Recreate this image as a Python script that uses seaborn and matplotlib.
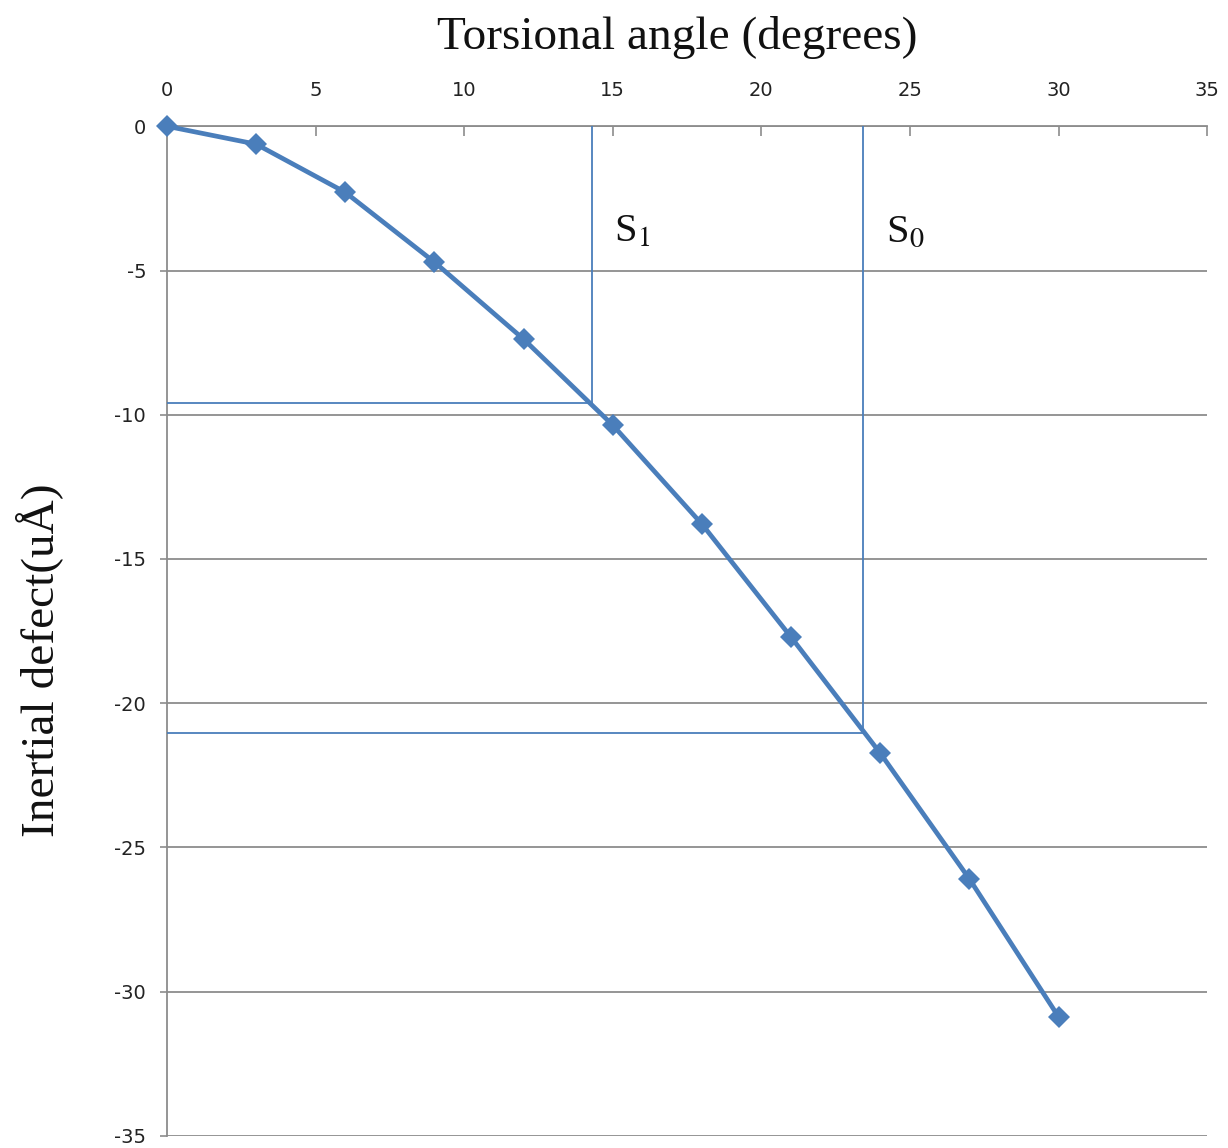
import matplotlib
matplotlib.use("Agg")
import matplotlib.pyplot as plt
import seaborn as sns
import pandas as pd

# Torsional angle scan and resulting inertial defect
angle = [0, 3, 6, 9, 12, 15, 18, 21, 24, 27, 30]
defect = [0.0, -0.62, -2.29, -4.71, -7.38, -10.36, -13.79, -17.71, -21.73, -26.09, -30.87]

# Experimental inertial defects of the two electronic states and their angles
state_labels = ["S$_1$", "S$_0$"]
state_angle = [14.3, 23.43]
state_defect = [-9.6, -21.03]

x_ticks = [0, 5, 10, 15, 20, 25, 30, 35]
y_ticks = [0, -5, -10, -15, -20, -25, -30, -35]

sns.set_theme(style="white")
plt.rcParams["mathtext.fontset"] = "stix"
plt.rcParams["font.family"] = ["DejaVu Sans"]

blue = "#4a7ebb"
grid_grey = "#8c8c8c"

fig = plt.figure(figsize=(12.28, 11.48), dpi=100)
ax = fig.add_axes([0.136, 0.0105, 0.847, 0.8795])

df = pd.DataFrame({"angle": angle, "defect": defect})
sns.lineplot(data=df, x="angle", y="defect", ax=ax, color=blue, linewidth=3.4,
             marker="D", markersize=11, markeredgewidth=0, markerfacecolor=blue,
             zorder=4, clip_on=False)

# Reference lines reading off each state's angle
for lab, xa, yd in zip(state_labels, state_angle, state_defect):
    ax.plot([xa, xa], [0, yd], color=blue, linewidth=1.3, zorder=3)
    ax.plot([0, xa], [yd, yd], color=blue, linewidth=1.3, zorder=3)
    ax.text(xa + 0.75, -4.0, lab, fontsize=29, family="Liberation Serif",
            ha="left", va="baseline", color="#111111")

ax.set_xlim(0, 35)
ax.set_ylim(-35, 0)
ax.set_xticks(x_ticks)
ax.set_yticks(y_ticks)
ax.set_xticklabels([str(t) for t in x_ticks])
ax.set_yticklabels([str(t) for t in y_ticks])

ax.yaxis.grid(True, color=grid_grey, linewidth=1.3)
ax.xaxis.grid(False)
ax.set_axisbelow(True)

ax.xaxis.tick_top()
ax.xaxis.set_label_position("top")
ax.tick_params(axis="x", which="both", direction="in", length=7, width=1.2,
               color=grid_grey, pad=19, labelsize=14, labelcolor="#222222",
               top=True, bottom=False)
ax.tick_params(axis="y", which="both", direction="out", length=5, width=1.2,
               color=grid_grey, pad=10, labelsize=14, labelcolor="#222222",
               left=True, right=False)

for side in ["right", "bottom"]:
    ax.spines[side].set_visible(False)
for side in ["left", "top"]:
    ax.spines[side].set_color(grid_grey)
    ax.spines[side].set_linewidth(1.3)

ax.set_xlabel("Torsional angle (degrees)", fontsize=34, family="Liberation Serif",
              color="#111111")
ax.set_ylabel("Inertial defect(uÅ)", fontsize=34, family="Liberation Serif",
              color="#111111")
ax.xaxis.set_label_coords(0.491, 1.077)
ax.yaxis.set_label_coords(-0.100, 0.471)

fig.savefig("out.png", dpi=100)
